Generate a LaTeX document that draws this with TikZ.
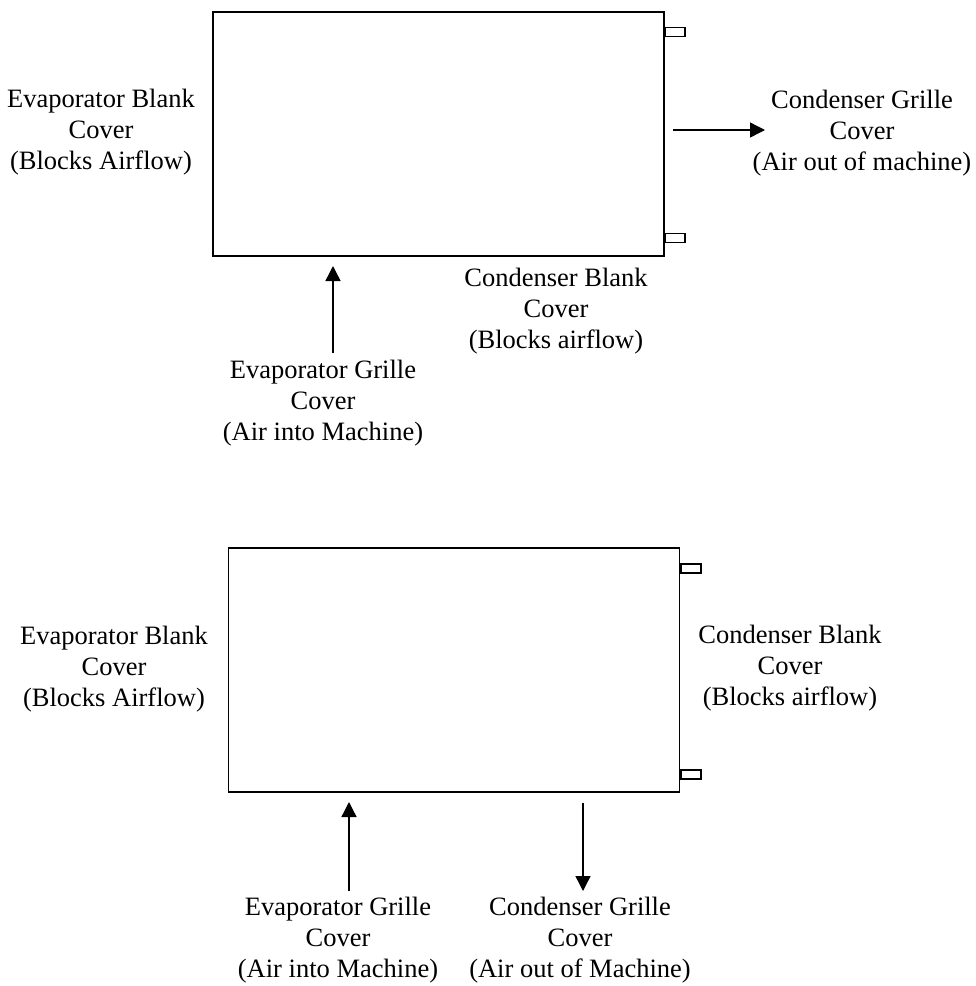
\documentclass[tikz,border=0pt]{standalone}
\usepackage{fontspec}
\setmainfont{Liberation Serif}
\usetikzlibrary{arrows.meta}
\begin{document}
\begin{tikzpicture}[x=1pt,y=-1pt,
  unit/.style={draw, line width=1.6pt, minimum width=451pt, minimum height=244pt, inner sep=0pt},
  tabbox/.style={draw, line width=1.6pt, minimum width=20pt, minimum height=9pt, inner sep=0pt, anchor=west},
  lbl/.style={align=center, inner sep=0pt, font=\fontsize{26.5}{31}\selectfont},
  flow/.style={line width=1.4pt, -{Triangle[length=15pt,width=15pt]}}]
\useasboundingbox (0,0) rectangle (976,986);
% top unit
\node[unit] (box1) at (438.5,134) {};
\node[tabbox] (t1a) at (664,32) {};
\node[tabbox] (t1b) at (664,238) {};
\node[lbl] (ebc1) at (101,132) {Evaporator Blank\\Cover\\(Blocks Airflow)};
\node[lbl] (cgc1) at (862,133) {Condenser Grille\\Cover\\(Air out of machine)};
\node[lbl] (cbc1) at (556,311) {Condenser Blank\\Cover\\(Blocks airflow)};
\node[lbl] (egc1) at (323,403) {Evaporator Grille\\Cover\\(Air into Machine)};
\coordinate (a1s) at (673,130);
\coordinate (a1e) at (765,130);
\coordinate (a2s) at (333,353);
\coordinate (a2e) at (333,266);
\draw[flow] (a1s) -- (a1e);
\draw[flow] (a2s) -- (a2e);
% bottom unit
\node[unit] (box2) at (454,670) {};
\node[tabbox] (t2a) at (680,568.5) {};
\node[tabbox] (t2b) at (680,774.5) {};
\node[lbl] (ebc2) at (114,669) {Evaporator Blank\\Cover\\(Blocks Airflow)};
\node[lbl] (cbc2) at (790,668) {Condenser Blank\\Cover\\(Blocks airflow)};
\node[lbl] (egc2) at (338,940) {Evaporator Grille\\Cover\\(Air into Machine)};
\node[lbl] (cgc2) at (580,940) {Condenser Grille\\Cover\\(Air out of Machine)};
\coordinate (b1s) at (349,891);
\coordinate (b1e) at (349,802);
\coordinate (b2s) at (583,803);
\coordinate (b2e) at (583,891);
\draw[flow] (b1s) -- (b1e);
\draw[flow] (b2s) -- (b2e);
\end{tikzpicture}
\end{document}
